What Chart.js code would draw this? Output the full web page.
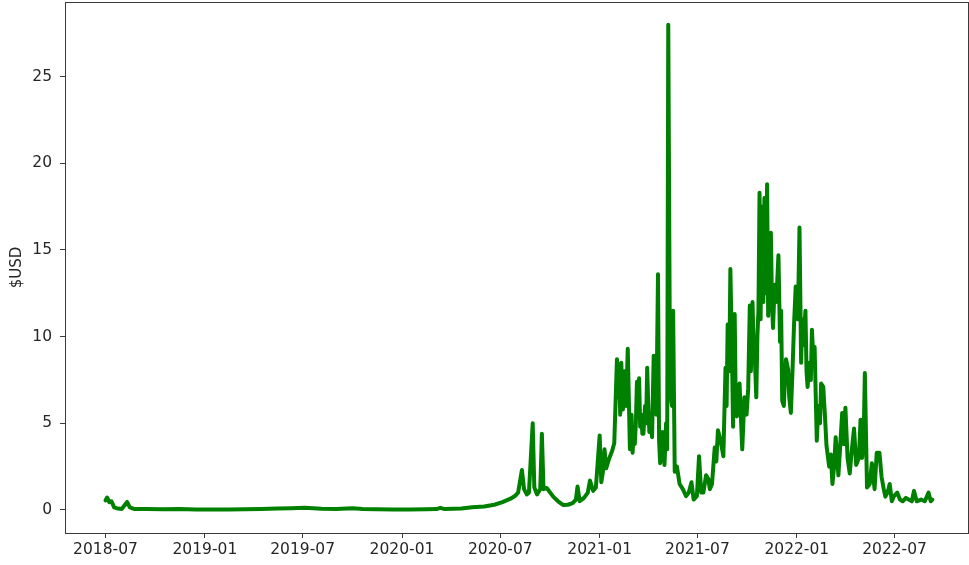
<!DOCTYPE html>
<html>
<head>
<meta charset="utf-8">
<script src="https://cdn.jsdelivr.net/npm/chart.js@4/dist/chart.umd.min.js"></script>
<style>
  html, body { margin: 0; padding: 0; background: #fff; }
  #wrap { width: 969px; height: 565px; }
</style>
</head>
<body>
<div id="wrap"><canvas id="c" width="969" height="565"></canvas></div>
<script>
const dates = [
  "2018-07-01","2018-07-04","2018-07-08","2018-07-12","2018-07-17","2018-07-24","2018-07-31","2018-08-06","2018-08-10","2018-08-15",
  "2018-08-24","2018-09-15","2018-10-15","2018-11-15","2018-12-15","2019-01-15","2019-02-15","2019-03-15","2019-04-15","2019-05-15",
  "2019-06-10","2019-07-05","2019-08-05","2019-09-01","2019-10-01","2019-10-20","2019-11-15","2019-12-15","2020-01-15","2020-02-15",
  "2020-03-05","2020-03-12","2020-03-20","2020-04-20","2020-05-10","2020-06-01","2020-06-20","2020-07-05","2020-07-20","2020-07-28",
  "2020-08-03","2020-08-10","2020-08-14","2020-08-19","2020-08-23","2020-08-30","2020-09-02","2020-09-07","2020-09-13","2020-09-16",
  "2020-09-19","2020-09-25","2020-10-07","2020-10-16","2020-10-25","2020-11-03","2020-11-12","2020-11-18","2020-11-21","2020-11-25",
  "2020-12-03","2020-12-10","2020-12-14","2020-12-20","2020-12-25","2021-01-01","2021-01-04","2021-01-07","2021-01-10","2021-01-13",
  "2021-01-15","2021-01-19","2021-01-24","2021-01-28","2021-02-02","2021-02-04","2021-02-06","2021-02-08","2021-02-10","2021-02-13",
  "2021-02-16","2021-02-19","2021-02-22","2021-02-26","2021-03-01","2021-03-03","2021-03-05","2021-03-07","2021-03-09","2021-03-11",
  "2021-03-13","2021-03-15","2021-03-17","2021-03-19","2021-03-21","2021-03-23","2021-03-26","2021-03-28","2021-03-30","2021-04-01",
  "2021-04-03","2021-04-05","2021-04-08","2021-04-11","2021-04-14","2021-04-16","2021-04-19","2021-04-21","2021-04-23","2021-04-27",
  "2021-05-01","2021-05-04","2021-05-06","2021-05-08","2021-05-11","2021-05-13","2021-05-15","2021-05-17","2021-05-20","2021-05-24",
  "2021-05-29","2021-06-04","2021-06-10","2021-06-15","2021-06-20","2021-06-24","2021-06-30","2021-07-04","2021-07-08","2021-07-12",
  "2021-07-17","2021-07-21","2021-07-24","2021-07-28","2021-08-02","2021-08-05","2021-08-08","2021-08-13","2021-08-18","2021-08-22",
  "2021-08-24","2021-08-26","2021-08-29","2021-08-31","2021-09-03","2021-09-05","2021-09-08","2021-09-10","2021-09-12","2021-09-15",
  "2021-09-17","2021-09-20","2021-09-22","2021-09-26","2021-09-30","2021-10-03","2021-10-06","2021-10-08","2021-10-11","2021-10-13",
  "2021-10-15","2021-10-18","2021-10-20","2021-10-22","2021-10-24","2021-10-26","2021-10-28","2021-10-31","2021-11-02","2021-11-05",
  "2021-11-07","2021-11-09","2021-11-12","2021-11-14","2021-11-16","2021-11-18","2021-11-21","2021-11-24","2021-11-28","2021-12-01",
  "2021-12-03","2021-12-05","2021-12-08","2021-12-10","2021-12-12","2021-12-16","2021-12-18","2021-12-21","2021-12-24","2021-12-27",
  "2021-12-30","2022-01-03","2022-01-06","2022-01-09","2022-01-11","2022-01-13","2022-01-17","2022-01-19","2022-01-21","2022-01-24",
  "2022-01-27","2022-01-29","2022-02-01","2022-02-03","2022-02-07","2022-02-10","2022-02-13","2022-02-15","2022-02-19","2022-02-22",
  "2022-02-25","2022-03-02","2022-03-05","2022-03-08","2022-03-11","2022-03-14","2022-03-19","2022-03-22","2022-03-26","2022-03-29",
  "2022-04-01","2022-04-05","2022-04-09","2022-04-13","2022-04-17","2022-04-21","2022-04-26","2022-04-29","2022-05-02","2022-05-05",
  "2022-05-07","2022-05-11","2022-05-16","2022-05-20","2022-05-25","2022-05-29","2022-06-03","2022-06-07","2022-06-11","2022-06-14",
  "2022-06-18","2022-06-22","2022-06-26","2022-06-30","2022-07-06","2022-07-11","2022-07-16","2022-07-22","2022-07-27","2022-08-02",
  "2022-08-06","2022-08-11","2022-08-19","2022-08-26","2022-09-02","2022-09-06","2022-09-09"
];
const prices = [
  0.55,0.72,0.45,0.5,0.15,0.08,0.05,0.3,0.46,0.15,
  0.05,0.06,0.04,0.05,0.03,0.02,0.03,0.04,0.05,0.08,
  0.1,0.12,0.07,0.05,0.1,0.06,0.04,0.03,0.03,0.04,
  0.05,0.12,0.05,0.08,0.15,0.2,0.3,0.45,0.65,0.8,
  1.0,2.3,1.2,0.9,1.0,5.0,1.3,0.9,1.2,4.4,
  1.2,1.27,0.77,0.5,0.29,0.3,0.4,0.6,1.35,0.5,
  0.7,1.0,1.7,1.1,1.3,4.3,1.6,2.2,3.5,2.4,
  2.6,3.0,3.4,3.85,8.7,6.5,8.4,5.5,8.5,5.8,
  8.0,6.0,9.3,3.5,5.5,3.3,4.5,3.8,5.0,7.4,
  5.5,7.6,4.8,5.5,4.4,4.4,6.0,5.0,8.2,6.0,
  4.5,5.1,4.2,8.9,6.0,5.5,13.6,4.0,2.7,4.5,
  2.6,5.0,3.5,28.0,9.0,6.5,6.0,11.5,2.2,2.5,
  1.5,1.2,0.8,1.0,1.6,0.6,0.8,3.1,1.0,1.0,
  2.0,1.8,1.2,1.5,3.6,2.8,4.6,4.0,3.1,8.2,
  6.0,10.7,8.0,13.9,9.0,4.8,11.3,6.0,5.4,6.8,
  7.3,5.0,3.5,6.5,5.5,7.0,11.8,8.0,12.0,9.5,
  9.0,6.5,10.0,11.5,18.3,11.0,17.5,12.0,18.0,12.5,
  18.8,11.2,14.0,16.0,12.0,10.5,13.0,12.0,14.7,9.7,
  11.5,6.3,6.0,7.5,8.7,8.1,6.5,5.6,8.0,10.8,
  12.9,11.0,16.3,8.5,11.0,9.5,11.5,8.0,7.1,8.5,
  7.5,10.4,8.5,9.4,4.0,6.0,5.0,7.3,7.1,5.5,
  3.7,2.5,3.2,1.5,2.5,4.2,2.0,3.5,5.6,3.8,
  5.9,3.0,2.1,3.5,4.7,2.6,3.0,5.2,3.0,4.5,
  7.9,1.3,1.5,2.7,1.2,3.3,3.3,1.9,1.2,0.77,
  1.0,1.5,0.5,0.8,1.0,0.6,0.5,0.7,0.6,0.5,
  1.1,0.5,0.6,0.5,1.0,0.5,0.6
];
const xTickLabels = ["2018-07","2019-01","2019-07","2020-01","2020-07","2021-01","2021-07","2022-01","2022-07"];
const yTickValues = [0,5,10,15,20,25];
const yLabel = "$USD";

function toMs(s) {
  const p = s.split("-").map(Number);
  return Date.UTC(p[0], p[1] - 1, p[2] || 1);
}
function fmt(ms) {
  const d = new Date(ms);
  return d.getUTCFullYear() + "-" + String(d.getUTCMonth() + 1).padStart(2, "0");
}

const points = dates.map((d, i) => ({ x: toMs(d), y: prices[i] }));
const FONT = "'DejaVu Sans', sans-serif";
const TXT = "#262626";

const framePlugin = {
  id: "frame",
  afterDraw(chart) {
    const a = chart.chartArea, ctx = chart.ctx;
    ctx.save();
    ctx.strokeStyle = "#3a3a3a";
    ctx.lineWidth = 1;
    ctx.strokeRect(Math.round(a.left) + 0.5, Math.round(a.top) + 0.5,
                   Math.round(a.right - a.left), Math.round(a.bottom - a.top));
    ctx.fillStyle = TXT;
    ctx.font = "15px " + FONT;
    ctx.translate(17, (a.top + a.bottom) / 2);
    ctx.rotate(-Math.PI / 2);
    ctx.textAlign = "center";
    ctx.textBaseline = "middle";
    ctx.fillText(yLabel, 0, 0);
    ctx.restore();
  }
};

function noPad(s) { s.paddingTop = 0; s.paddingBottom = 0; s.paddingLeft = 0; s.paddingRight = 0; }

new Chart(document.getElementById("c"), {
  type: "line",
  data: {
    datasets: [{
      data: points,
      borderColor: "#008000",
      borderWidth: 4,
      pointRadius: 0,
      tension: 0,
      fill: false,
      borderJoinStyle: "round",
      borderCapStyle: "round"
    }]
  },
  options: {
    responsive: false,
    animation: false,
    devicePixelRatio: 1,
    layout: { padding: { left: 0, right: 1, top: 2, bottom: 0 } },
    plugins: { legend: { display: false }, tooltip: { enabled: false } },
    scales: {
      x: {
        type: "linear",
        min: toMs("2018-04-17"),
        max: toMs("2022-11-14"),
        afterBuildTicks(s) { s.ticks = xTickLabels.map(l => ({ value: toMs(l + "-01") })); },
        afterFit(s) { s.height = 32; noPad(s); },
        grid: { display: true, drawOnChartArea: false, drawTicks: true, tickLength: 5, color: "#3a3a3a" },
        border: { display: false },
        ticks: {
          autoSkip: false, maxRotation: 0, padding: 3, color: TXT,
          font: { family: FONT, size: 15.5 },
          callback: (v) => fmt(v)
        }
      },
      y: {
        type: "linear",
        min: -1.33,
        max: 29.31,
        afterBuildTicks(s) { s.ticks = yTickValues.map(v => ({ value: v })); },
        afterFit(s) { s.width = 65; noPad(s); },
        grid: { display: true, drawOnChartArea: false, drawTicks: true, tickLength: 5, color: "#3a3a3a" },
        border: { display: false },
        ticks: {
          autoSkip: false, padding: 8, color: TXT,
          font: { family: FONT, size: 15.5 },
          callback: (v) => String(v)
        }
      }
    }
  },
  plugins: [framePlugin]
});
</script>
</body>
</html>
